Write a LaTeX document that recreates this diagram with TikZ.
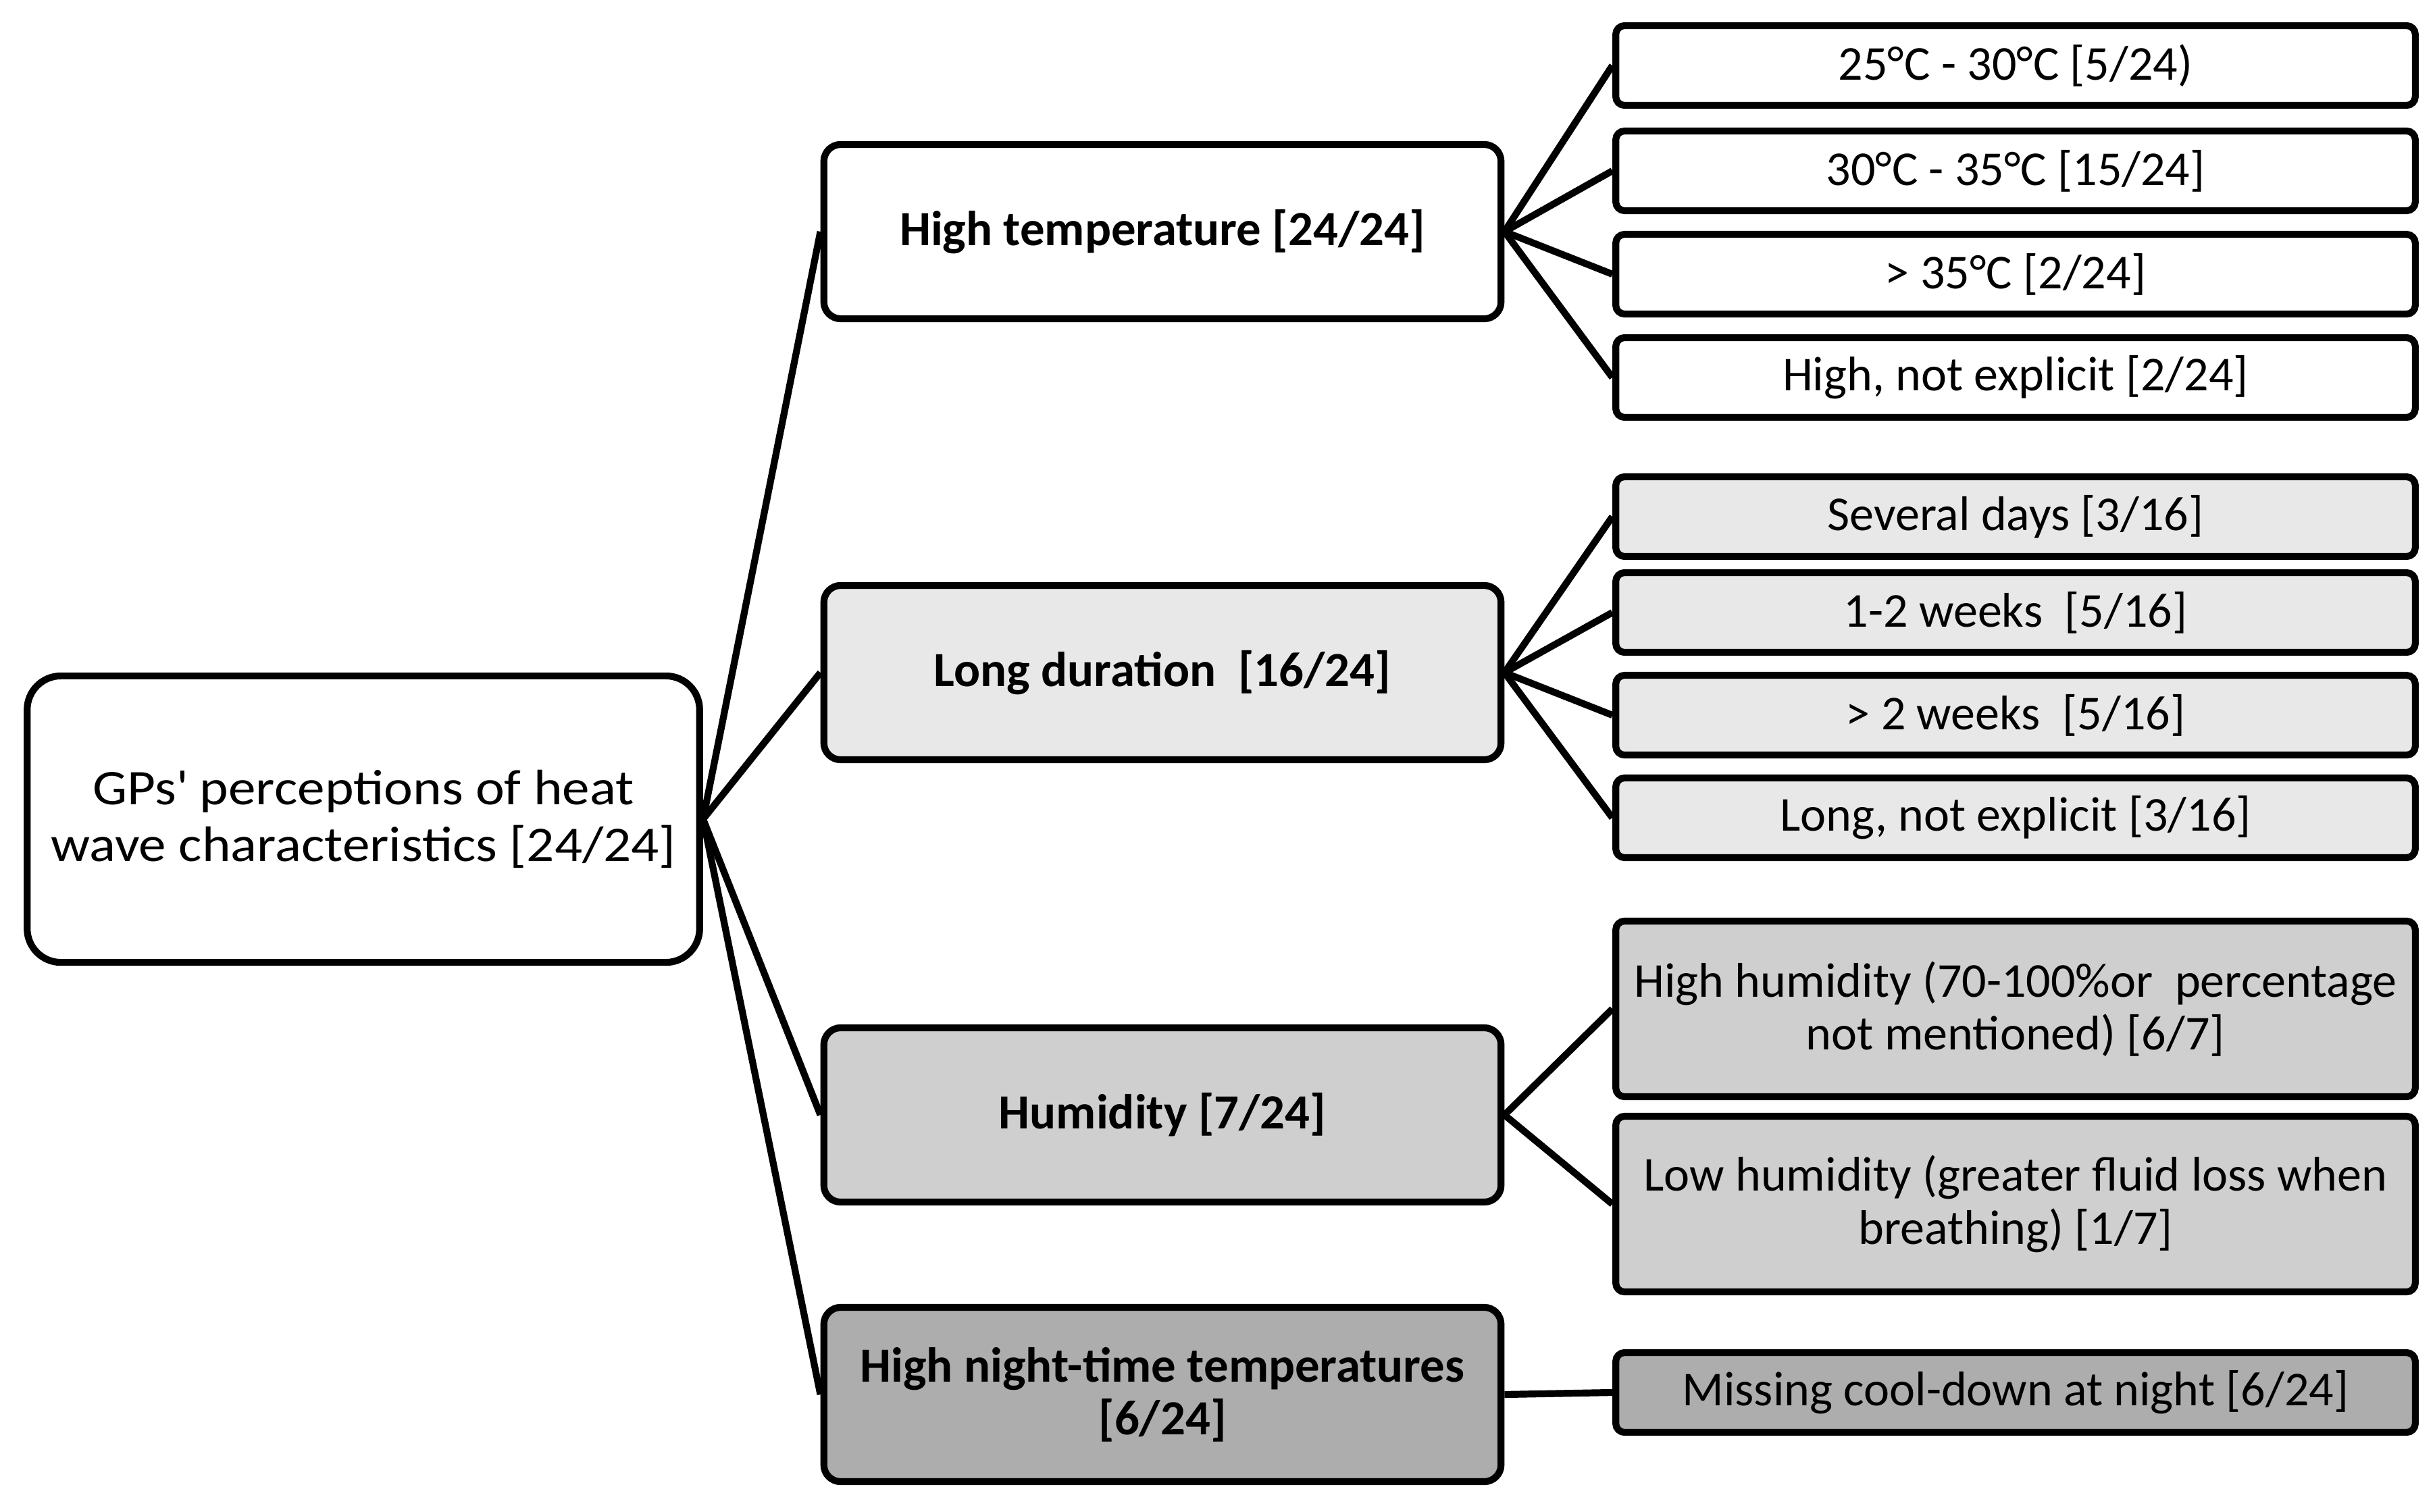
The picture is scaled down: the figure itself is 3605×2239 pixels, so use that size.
\documentclass[tikz,border=0pt]{standalone}
\usepackage{fontspec}
\setmainfont{Carlito}
\usepackage{xcolor}
\usepackage{tikz}

\definecolor{shadeA}{gray}{0.91}
\definecolor{shadeB}{gray}{0.81}
\definecolor{shadeC}{gray}{0.68}

\begin{document}
\begin{tikzpicture}[
		x=0.01cm, y=0.01cm,
		every node/.style = {font=\fontsize{20.5pt}{22.3pt}\selectfont},
		box/.style = {draw, line width=2.9pt, align=center, inner sep=0pt},
		rootbox/.style = {box, rounded corners=0.5cm, minimum width=9.95cm, minimum height=4.24cm, font=\fontsize{21pt}{23.9pt}\selectfont\addfontfeature{FakeStretch=1.1}},
		catbox/.style = {box, rounded corners=0.25cm, minimum width=10.02cm, minimum height=2.58cm, font=\fontsize{20.7pt}{22.3pt}\selectfont\bfseries},
		leafbox/.style = {box, rounded corners=0.13cm, minimum width=11.83cm, minimum height=1.18cm},
		tallleaf/.style = {leafbox, minimum height=2.6cm},
		link/.style = {line width=2.9pt}
		]
		\useasboundingbox (0,0) rectangle (3605,-2239);
		
		% Root ----------------------------------------------------------
		\node[rootbox, fill=white] (gps) at (538,-1213) {GPs\textquotesingle\ perceptions of heat\\wave characteristics [24/24]};
		
		% Categories ----------------------------------------------------
		\node[catbox, fill=white]  (hightemp) at (1721,-343)  {High temperature [24/24]};
		\node[catbox, fill=shadeA] (longdur)  at (1721,-996)  {Long duration~ [16/24]};
		\node[catbox, fill=shadeB] (humid)    at (1721,-1651) {Humidity [7/24]};
		\node[catbox, fill=shadeC] (night)    at (1721,-2065) {High night-time temperatures\\{}[6/24]};
		
		% Temperature leaves --------------------------------------------
		\node[leafbox, fill=white] (tA) at (2984,-97)  {25°C - 30°C [5/24)};
		\node[leafbox, fill=white] (tB) at (2984,-253) {30°C - 35°C [15/24]};
		\node[leafbox, fill=white] (tC) at (2984,-406) {> 35°C [2/24]};
		\node[leafbox, fill=white] (tD) at (2984,-559) {High, not explicit [2/24]};
		
		% Duration leaves -----------------------------------------------
		\node[leafbox, fill=shadeA] (dA) at (2984,-765)  {Several days [3/16]};
		\node[leafbox, fill=shadeA] (dB) at (2984,-907)  {1-2 weeks~ [5/16]};
		\node[leafbox, fill=shadeA] (dC) at (2984,-1059) {> 2 weeks~ [5/16]};
		\node[leafbox, fill=shadeA] (dD) at (2984,-1211) {Long, not explicit [3/16]};
		
		% Humidity leaves -----------------------------------------------
		\node[tallleaf, fill=shadeB] (hA) at (2984,-1494) {High humidity (70-100\%or~ percentage\\not mentioned) [6/7]};
		\node[tallleaf, fill=shadeB] (hB) at (2984,-1783) {Low humidity (greater fluid loss when\\breathing) [1/7]};
		
		% Night leaf ----------------------------------------------------
		\node[leafbox, fill=shadeC] (nA) at (2984,-2062) {Missing cool-down at night [6/24]};
		
		% Links ---------------------------------------------------------
		\draw[link] (gps.east) -- (hightemp.west);
		\draw[link] (gps.east) -- (longdur.west);
		\draw[link] (gps.east) -- (humid.west);
		\draw[link] (gps.east) -- (night.west);
		\draw[link] (hightemp.east) -- (tA.west);
		\draw[link] (hightemp.east) -- (tB.west);
		\draw[link] (hightemp.east) -- (tC.west);
		\draw[link] (hightemp.east) -- (tD.west);
		\draw[link] (longdur.east) -- (dA.west);
		\draw[link] (longdur.east) -- (dB.west);
		\draw[link] (longdur.east) -- (dC.west);
		\draw[link] (longdur.east) -- (dD.west);
		\draw[link] (humid.east) -- (hA.west);
		\draw[link] (humid.east) -- (hB.west);
		\draw[link] (night.east) -- (nA.west);
	\end{tikzpicture}
\end{document}
